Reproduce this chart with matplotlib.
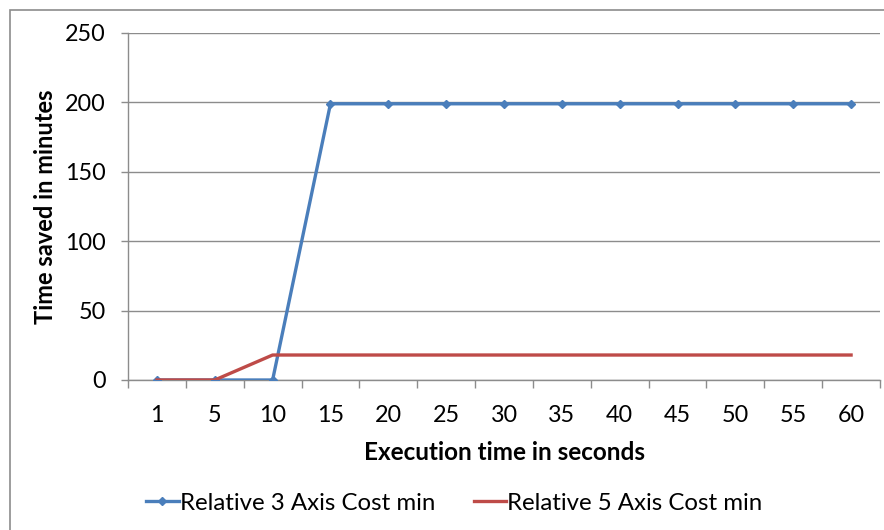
import matplotlib.pyplot as plt
from matplotlib.patches import Rectangle
import numpy as np

plt.rcParams['font.family'] = ['Lato', 'DejaVu Sans']

categories = ['1', '5', '10', '15', '20', '25', '30', '35', '40', '45', '50', '55', '60']
axis3_cost = [0, 0, 0, 199, 199, 199, 199, 199, 199, 199, 199, 199, 199]
axis5_cost = [0, 0, 18, 18, 18, 18, 18, 18, 18, 18, 18, 18, 18]

blue = '#4A7EBB'
red = '#BE4B48'
grid_gray = '#8C8C8C'
fs = 16.8

fig = plt.figure(figsize=(8.84, 5.30), dpi=100)
ax = fig.add_axes([128 / 884, 1 - 380 / 530, 752 / 884, 347 / 530])

# outer chart frame (only top/left edges fall inside the image)
fig.patches.append(Rectangle((10 / 884, -0.1), 1.2, (1 - 10 / 530) + 0.1,
                             transform=fig.transFigure, fill=False,
                             edgecolor='#8C8C8C', linewidth=1.2))

x = np.arange(len(categories))
ax.plot(x, axis3_cost, color=blue, linewidth=2.4, marker='D', markersize=4.5,
        label='Relative 3 Axis Cost min', zorder=3)
ax.plot(x, axis5_cost, color=red, linewidth=2.4, label='Relative 5 Axis Cost min', zorder=4)

ax.set_xlim(-0.5, len(categories) - 0.5)
ax.set_ylim(0, 250)
ax.set_yticks(np.arange(0, 251, 50))
ax.set_xticks(x)
ax.set_xticklabels(categories)
ax.set_xticks(np.arange(-0.5, len(categories), 1), minor=True)

ax.yaxis.grid(True, color=grid_gray, linewidth=1.0)
ax.set_axisbelow(True)

for side in ['top', 'right']:
    ax.spines[side].set_visible(False)
for side in ['left', 'bottom']:
    ax.spines[side].set_color(grid_gray)
    ax.spines[side].set_linewidth(1.0)

ax.tick_params(axis='x', which='major', length=0, pad=18, labelsize=fs)
ax.tick_params(axis='x', which='minor', length=6, color=grid_gray, width=1.0, direction='out')
ax.tick_params(axis='y', length=5, color=grid_gray, width=1.0, pad=11, labelsize=fs)

ax.set_xlabel('Execution time in seconds', fontsize=17.5, fontweight='bold', labelpad=11)
ax.set_ylabel('Time saved in minutes', fontsize=17, fontweight='bold', labelpad=6)

fig.legend(loc='center', bbox_to_anchor=(0.514, 1 - 503 / 530), ncol=2, frameon=False,
           fontsize=17.3, handlelength=1.35, handletextpad=0.05, columnspacing=1.6)

fig.savefig('out.png', dpi=100)
